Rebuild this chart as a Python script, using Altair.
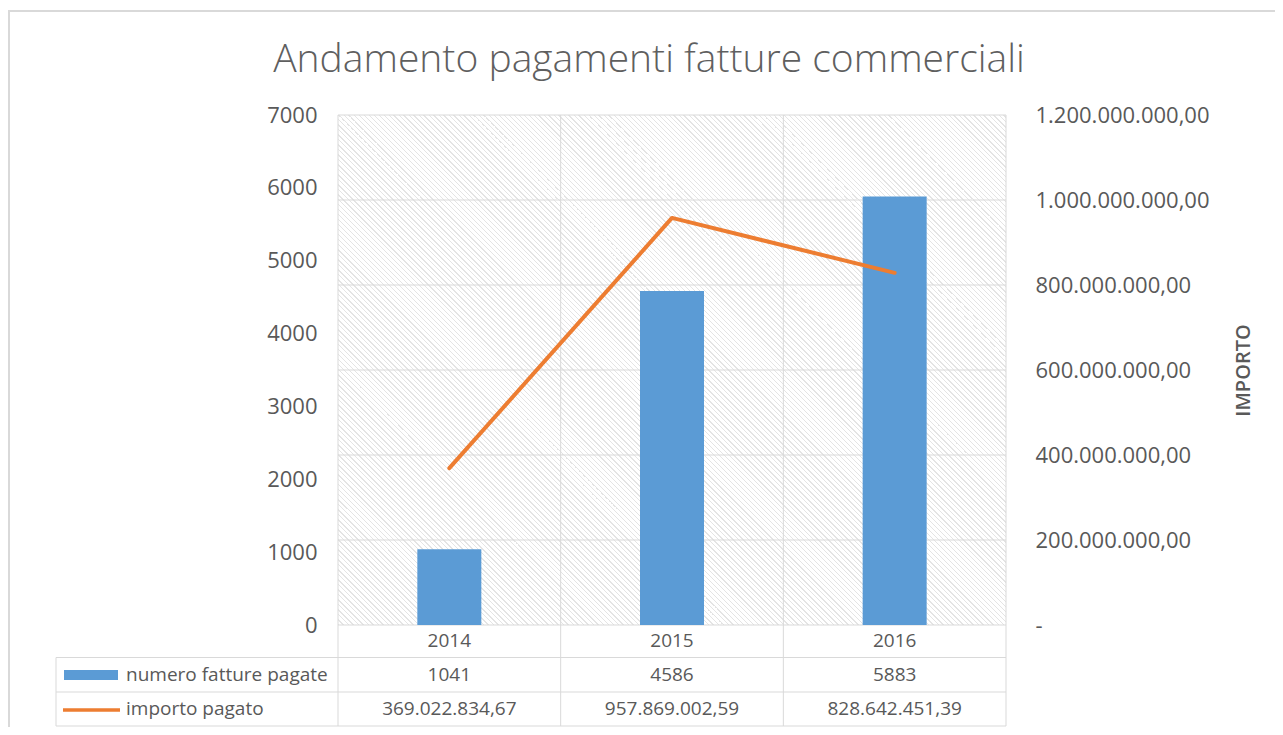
import altair as alt
import pandas as pd

# ---------------- data ----------------
years = ["2014", "2015", "2016"]
numero_fatture = [1041, 4586, 5883]
importo_pagato = [369022834.67, 957869002.59, 828642451.39]
left_ticks = [0, 1000, 2000, 3000, 4000, 5000, 6000, 7000]
right_ticks = [0, 200000000, 400000000, 600000000, 800000000, 1000000000, 1200000000]
series_names = ["numero fatture pagate", "importo pagato"]
title_text = ["Andamento pagamenti fatture commerciali"]
right_axis_title = "IMPORTO"

df = pd.DataFrame({"year": years, "numero": numero_fatture, "importo": importo_pagato})
grid_df = pd.DataFrame({"v": right_ticks})
one = pd.DataFrame({"k": [0]})
leg1 = pd.DataFrame({"s": [series_names[0]]})
leg2 = pd.DataFrame({"s": [series_names[1]]})
title_df = pd.DataFrame({"t": title_text})

# ---------------- styles ----------------
W, H = 668, 510
FONT = "Open Sans"
GREY = "#595959"
LINE = "#d9d9d9"
BLUE = "#5b9bd5"
ORANGE = "#ed7d31"

x_scale = alt.Scale(domain=years, paddingInner=0, paddingOuter=0)
left_scale = alt.Scale(domain=[0, 7000], nice=False)
right_scale = alt.Scale(domain=[0, 1200000000], nice=False)

# hatch pattern emulated by a striped linear gradient (45 degree stripes)
SPAN = W + H
PERIOD = 5.0
DARK = 1.8
HATCH = "#e4e4e4"
stops = []
k = 0
while k * PERIOD < SPAN:
    t0 = k * PERIOD / SPAN
    tm = min(1.0, (k * PERIOD + DARK) / SPAN)
    t1 = min(1.0, (k + 1) * PERIOD / SPAN)
    stops += [
        alt.GradientStop(offset=round(t0, 6), color=HATCH),
        alt.GradientStop(offset=round(tm, 6), color=HATCH),
        alt.GradientStop(offset=round(tm, 6), color="#ffffff"),
        alt.GradientStop(offset=round(t1, 6), color="#ffffff"),
    ]
    k += 1
kk = SPAN / (W * W + H * H)
hatch_fill = alt.LinearGradient(gradient="linear", stops=stops,
                                x1=0, y1=1, x2=round(kk * W, 6), y2=round(1 - kk * H, 6))

X = alt.X("year:N", scale=x_scale, axis=None)
Xc = alt.X("year:N", scale=x_scale, axis=None, bandPosition=0.5)

hatch = alt.Chart(one).mark_rect(fill=hatch_fill, strokeWidth=0).encode(
    x=alt.value(0), x2=alt.value("width"), y=alt.value(0), y2=alt.value("height")
)

grid = alt.Chart(grid_df).mark_rule(color=LINE, strokeWidth=1).encode(
    y=alt.Y("v:Q", scale=right_scale, axis=None)
)

vrules = alt.Chart(df).mark_rule(color=LINE, strokeWidth=1).encode(
    x=alt.X("year:N", scale=x_scale, axis=None, bandPosition=0),
    y=alt.value(0), y2=alt.value(611),
)
right_edge = alt.Chart(one).mark_rule(color=LINE, strokeWidth=1).encode(
    x=alt.value("width"), y=alt.value(0), y2=alt.value(611)
)

bars = alt.Chart(df).mark_bar(size=64, color=BLUE).encode(
    x=X,
    y=alt.Y("numero:Q", scale=left_scale, axis=alt.Axis(
        values=left_ticks, orient="left", title=None, format="d",
        labelFontSize=22, labelColor=GREY, labelFont=FONT, labelPadding=21,
        ticks=False, domain=False, grid=False)),
)

line = alt.Chart(df).mark_line(color=ORANGE, strokeWidth=4, strokeCap="round", strokeJoin="round").encode(
    x=Xc,
    y=alt.Y("importo:Q", scale=right_scale, axis=alt.Axis(
        values=right_ticks, orient="right", title=right_axis_title, format=",.2f",
        labelExpr="datum.value == 0 ? '-' : datum.label",
        labelFontSize=22, labelColor=GREY, labelFont=FONT, labelPadding=29,
        ticks=False, domain=False, grid=False,
        titleAngle=270, titleX=237, titleY=255, titleAlign="center", titleBaseline="middle",
        titleFontSize=20, titleFontWeight=600, titleColor=GREY, titleFont=FONT)),
)

txt = dict(fontSize=19, font=FONT, color=GREY, baseline="middle", align="center")
year_txt = alt.Chart(df).mark_text(**txt).encode(x=Xc, y=alt.value(526), text="year:N")
num_txt = alt.Chart(df).mark_text(**txt).encode(x=Xc, y=alt.value(560), text=alt.Text("numero:Q", format="d"))
imp_txt = alt.Chart(df).mark_text(**txt).encode(x=Xc, y=alt.value(594), text=alt.Text("importo:Q", format=",.2f"))

table_lines = []
for yv in [542.5, 577, 611]:
    table_lines.append(alt.Chart(one).mark_rule(color=LINE, strokeWidth=1).encode(
        x=alt.value(-282), x2=alt.value("width"), y=alt.value(yv)))
table_lines.append(alt.Chart(one).mark_rule(color=LINE, strokeWidth=1).encode(
    x=alt.value(-282), y=alt.value(542.5), y2=alt.value(611)))

sw1 = alt.Chart(one).mark_rect(color=BLUE).encode(
    x=alt.value(-274), x2=alt.value(-220), y=alt.value(555), y2=alt.value(565))
sw2 = alt.Chart(one).mark_rule(color=ORANGE, strokeWidth=3.5).encode(
    x=alt.value(-275), x2=alt.value(-218), y=alt.value(595))
lt = dict(fontSize=19, font=FONT, color=GREY, baseline="middle", align="left")
lab1 = alt.Chart(leg1).mark_text(**lt).encode(x=alt.value(-212), y=alt.value(560), text="s:N")
lab2 = alt.Chart(leg2).mark_text(**lt).encode(x=alt.value(-212), y=alt.value(594), text="s:N")

title = alt.Chart(title_df).mark_text(fontSize=39, font=FONT, fontWeight=300, color="#5f5f5f",
                                      align="center", baseline="alphabetic").encode(
    x=alt.value(311), y=alt.value(-43), text="t:N")

frame = alt.Chart(one).mark_rect(filled=False, stroke=LINE, strokeWidth=2).encode(
    x=alt.value(-329), x2=alt.value(960), y=alt.value(-104), y2=alt.value(640))

chart = alt.layer(
    hatch, grid, vrules, right_edge, bars, line,
    year_txt, num_txt, imp_txt, *table_lines, sw1, sw2, lab1, lab2, title, frame,
).resolve_scale(y="independent").properties(
    width=W, height=H,
    padding={"left": 330, "top": 107, "right": 269, "bottom": 102},
    autosize=alt.AutoSizeParams(type="none"),
).configure(
    locale=alt.Locale(number=alt.NumberLocale(decimal=",", thousands=".", grouping=[3], currency=["€", ""]))
).configure_view(stroke=None)

chart.save("out.html", embed_options={"renderer": "svg", "actions": False})
